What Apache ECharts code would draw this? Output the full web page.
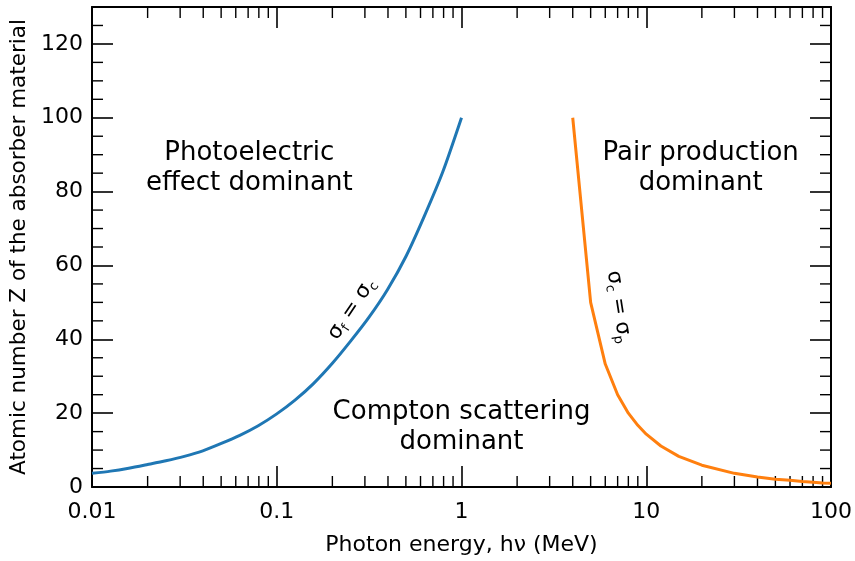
<!DOCTYPE html>
<html>
<head>
<meta charset="utf-8">
<script src="https://cdn.jsdelivr.net/npm/echarts@6/dist/echarts.min.js"></script>
<style>html,body{margin:0;padding:0;background:#fff}#c{width:855px;height:561px}</style>
</head>
<body>
<div id="c"></div>
<script>
// Photoelectric / Compton boundary (sigma_f = sigma_c)
const peEnergy = [0.01, 0.0126, 0.0158, 0.02, 0.0251, 0.0316, 0.0398, 0.0501, 0.0631, 0.0794, 0.1,
                  0.126, 0.158, 0.2, 0.251, 0.316, 0.398, 0.501, 0.631, 0.794, 1];
const peZ      = [3.7, 4.3, 5.1, 6.1, 7.1, 8.3, 9.8, 11.8, 14.0, 16.6, 19.8,
                  23.6, 28.0, 33.5, 39.5, 46.0, 53.5, 62.5, 73.5, 85.5, 100];
// Compton / pair boundary (sigma_c = sigma_p)
const ppEnergy = [4, 5, 6, 7, 8, 9, 10, 12, 15, 20, 30, 40, 50, 60, 70, 80, 90, 100];
const ppZ      = [100, 50, 33.3, 25, 20, 16.7, 14.3, 11.1, 8.3, 5.9, 3.7, 2.7, 2.1, 1.8, 1.5, 1.3, 1.1, 1.0];
const xTickLabels = ['0.01', '0.1', '1', '10', '100'];
const yTickLabels = ['0', '20', '40', '60', '80', '100', '120'];
const xMinor = [0.02,0.03,0.04,0.05,0.06,0.07,0.08,0.09,0.2,0.3,0.4,0.5,0.6,0.7,0.8,0.9,2,3,4,5,6,7,8,9,20,30,40,50,60,70,80,90];
const yMinor = [5,10,15,25,30,35,45,50,55,65,70,75,85,90,95,105,110,115,125];

const FONT = 'DejaVu Sans';
const chart = echarts.init(document.getElementById('c'), null, {renderer: 'canvas'});

const majorTick = {show: true, inside: true, length: 21, lineStyle: {color: '#000', width: 1.6}};
const axisLine = {show: true, onZero: false, lineStyle: {color: '#000', width: 2}};

function minorRender(kind) {
  return function (params, api) {
    const v = api.value(kind === 'x' ? 0 : 1);
    let a1, a2, b1, b2;
    const L = 11;
    if (kind === 'x') {
      const pb = api.coord([v, 0]);
      const pt = api.coord([v, 130]);
      a1 = [pb[0], pb[1]]; a2 = [pb[0], pb[1] - L];
      b1 = [pt[0], pt[1]]; b2 = [pt[0], pt[1] + L];
    } else {
      const pl = api.coord([0.01, v]);
      const pr = api.coord([100, v]);
      a1 = [pl[0], pl[1]]; a2 = [pl[0] + L, pl[1]];
      b1 = [pr[0], pr[1]]; b2 = [pr[0] - L, pr[1]];
    }
    const st = {stroke: '#000', lineWidth: 1.4};
    return {type: 'group', children: [
      {type: 'line', shape: {x1: a1[0], y1: a1[1], x2: a2[0], y2: a2[1]}, style: st},
      {type: 'line', shape: {x1: b1[0], y1: b1[1], x2: b2[0], y2: b2[1]}, style: st}
    ]};
  };
}

chart.setOption({
  animation: false,
  backgroundColor: '#fff',
  textStyle: {fontFamily: FONT},
  grid: {left: 92, right: 21, top: 7, bottom: 74, containLabel: false},
  xAxis: [{
    type: 'log', logBase: 10, min: 0.01, max: 100, position: 'bottom',
    axisLine: axisLine, axisTick: majorTick, splitLine: {show: false},
    axisLabel: {color: '#000', fontSize: 22, fontFamily: FONT, margin: 14,
      formatter: v => xTickLabels[Math.round(Math.log10(v)) + 2]},
    name: 'Photon energy, h\u03bd (MeV)', nameLocation: 'middle', nameGap: 47,
    nameTextStyle: {color: '#000', fontSize: 22, fontFamily: FONT}
  }, {
    type: 'log', logBase: 10, min: 0.01, max: 100, position: 'top',
    axisLine: axisLine, axisTick: majorTick, splitLine: {show: false}, axisLabel: {show: false}
  }],
  yAxis: [{
    type: 'value', min: 0, max: 130, interval: 20, position: 'left',
    axisLine: axisLine, axisTick: majorTick, splitLine: {show: false},
    axisLabel: {color: '#000', fontSize: 22, fontFamily: FONT, margin: 9, showMaxLabel: false,
      formatter: v => (v % 20 === 0 && v <= 120) ? yTickLabels[v / 20] : ''},
    name: 'Atomic number Z of the absorber material', nameLocation: 'middle', nameGap: 58,
    nameTextStyle: {color: '#000', fontSize: 21.5, fontFamily: FONT}
  }, {
    type: 'value', min: 0, max: 130, interval: 20, position: 'right',
    axisLine: axisLine, axisTick: majorTick, splitLine: {show: false}, axisLabel: {show: false}
  }],
  series: [{
    type: 'line', name: 'pe', data: peEnergy.map((e, i) => [e, peZ[i]]),
    smooth: 0.25, showSymbol: false, lineStyle: {color: '#1f77b4', width: 3}, z: 5
  }, {
    type: 'line', name: 'pp', data: ppEnergy.map((e, i) => [e, ppZ[i]]),
    smooth: false, showSymbol: false, lineStyle: {color: '#ff7f0e', width: 3}, z: 5
  }, {
    type: 'custom', data: xMinor.map(v => [v, 0]), renderItem: minorRender('x'), silent: true, z: 3
  }, {
    type: 'custom', data: yMinor.map(v => [0.01, v]), renderItem: minorRender('y'), silent: true, z: 3
  }]
});

function place() {
  const P = (x, y) => chart.convertToPixel({gridIndex: 0}, [x, y]);
  const big = {fontSize: 26, fontFamily: FONT, fill: '#000', align: 'center', verticalAlign: 'middle', lineHeight: 30};
  const p1 = P(0.071, 86.4); // photoelectric region
  const p2 = P(19.7, 86.4);
  const p3 = P(1, 16.3);
  const s1 = P(0.255, 48.2);
  const s2 = P(7.1, 48.8);
  const rich = {
    m: {fontSize: 21, fontFamily: FONT, fill: '#000', lineHeight: 26},
    s: {fontSize: 13, fontFamily: FONT, fill: '#000', lineHeight: 26, padding: [12, 0, 0, 0]}
  };
  chart.setOption({graphic: [
    {type: 'text', x: p1[0], y: p1[1], style: Object.assign({text: 'Photoelectric\neffect dominant'}, big)},
    {type: 'text', x: p2[0], y: p2[1], style: Object.assign({text: 'Pair production\ndominant'}, big)},
    {type: 'text', x: p3[0], y: p3[1], style: Object.assign({text: 'Compton scattering\ndominant'}, big)},
    {type: 'text', x: s1[0], y: s1[1], rotation: 56 * Math.PI / 180,
      style: {text: '{m|\u03c3}{s|f}{m| = \u03c3}{s|c}', rich: rich, align: 'center', verticalAlign: 'middle'}},
    {type: 'text', x: s2[0], y: s2[1], rotation: -81 * Math.PI / 180,
      style: {text: '{m|\u03c3}{s|c}{m| = \u03c3}{s|p}', rich: rich, align: 'center', verticalAlign: 'middle'}}
  ]});
}
place();
</script>
</body>
</html>
